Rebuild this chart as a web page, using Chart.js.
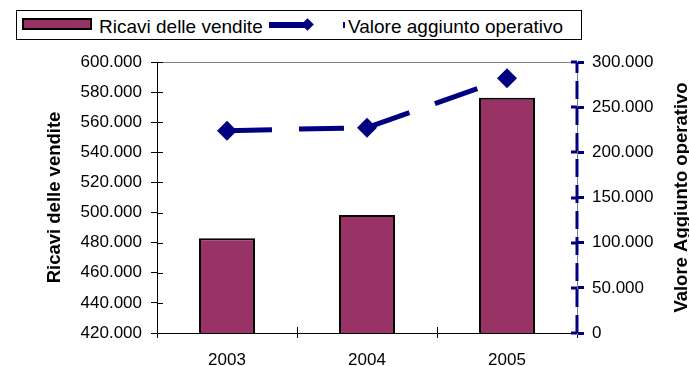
<!DOCTYPE html>
<html>
<head>
<meta charset="utf-8">
<script src="https://cdn.jsdelivr.net/npm/chart.js@4.4.1/dist/chart.umd.min.js"></script>
<style>
  body { margin: 0; background: #fff; }
  #wrap { position: relative; width: 689px; height: 366px; font-family: 'Liberation Sans', Arial, sans-serif; }
  #chart { position: absolute; left: 0; top: 0; }
  .lg { position: absolute; }
  #lgBox { left: 16px; top: 10px; width: 566px; height: 30px; border: 1px solid #000; box-sizing: border-box; background: #fff; }
  #lgBar { left: 22px; top: 18px; width: 70px; height: 12px; border: 2px solid #000; box-sizing: border-box; background: #993366; }
  .lgText { font-size: 19px; line-height: 22px; color: #000; white-space: nowrap; }
  #lgLine { left: 269px; top: 22px; width: 40px; height: 6px; background: #000080; }
  #lgDiamond { left: 303px; top: 20px; width: 9px; height: 9px; background: #000080; transform: rotate(45deg); }
  #lgDash { left: 343px; top: 22px; width: 2px; height: 6px; background: #000080; }
</style>
</head>
<body>
<div id="wrap">
  <canvas id="chart" width="689" height="366"></canvas>
  <div class="lg" id="lgBox"></div>
  <div class="lg" id="lgBar"></div>
  <span class="lg lgText" id="lgText1" style="left:99px; top:16px;"></span>
  <div class="lg" id="lgLine"></div>
  <div class="lg" id="lgDiamond"></div>
  <div class="lg" id="lgDash"></div>
  <span class="lg lgText" id="lgText2" style="left:348px; top:16px;"></span>
</div>
<script>
const anni = ['2003', '2004', '2005'];
const ricaviVendite = [482900, 498400, 576300];
const valoreAggiunto = [224000, 227300, 282000];
const labelRicavi = 'Ricavi delle vendite';
const labelValore = 'Valore aggiunto operativo';
const titoloSinistra = 'Ricavi delle vendite';
const titoloDestra = 'Valore Aggiunto operativo';

const BORDEAUX = '#993366';
const NAVY = '#000080';

document.getElementById('lgText1').textContent = labelRicavi;
document.getElementById('lgText2').textContent = labelValore;

// 600000 -> "600.000"
function migliaia(v) {
    return String(v).replace(/\B(?=(\d{3})+(?!\d))/g, '.');
}

Chart.defaults.font.family = "'Liberation Sans', Arial, sans-serif";
Chart.defaults.color = '#000';

// frame top line, inner half of the tick marks, dashed right axis, right title
const axisMarks = {
    id: 'axisMarks',
    afterDraw(chart) {
        const { ctx, chartArea: a, scales } = chart;
        ctx.save();

        ctx.strokeStyle = '#808080';
        ctx.lineWidth = 1;
        ctx.beginPath();
        ctx.moveTo(a.left, a.top + 0.5);
        ctx.lineTo(a.right, a.top + 0.5);
        ctx.stroke();

        const yL = scales.y;
        ctx.strokeStyle = '#000';
        ctx.beginPath();
        yL.ticks.forEach((t, i) => {
            const py = Math.round(yL.getPixelForTick(i)) + 0.5;
            ctx.moveTo(a.left, py);
            ctx.lineTo(a.left + 6, py);
        });
        const x = scales.x;
        for (let i = 0; i <= x.ticks.length; i++) {
            const px = Math.round(x.getPixelForValue(i - 0.5)) + 0.5;
            ctx.moveTo(px, a.bottom);
            ctx.lineTo(px, a.bottom - 6);
        }
        ctx.stroke();

        const yR = scales.y1;
        ctx.strokeStyle = NAVY;
        ctx.lineWidth = 3;
        ctx.setLineDash([18, 8]);
        ctx.beginPath();
        ctx.moveTo(a.right, a.bottom);
        ctx.lineTo(a.right, a.top);
        ctx.stroke();
        ctx.setLineDash([]);
        ctx.beginPath();
        yR.ticks.forEach((t, i) => {
            const py = Math.round(yR.getPixelForTick(i));
            ctx.moveTo(a.right - 6, py);
            ctx.lineTo(a.right, py);
        });
        ctx.stroke();

        const title = yR.options.title;
        ctx.translate(687, (a.top + a.bottom) / 2);
        ctx.rotate(-Math.PI / 2);
        ctx.font = 'bold 18.5px ' + Chart.defaults.font.family;
        ctx.fillStyle = '#000';
        ctx.textAlign = 'center';
        ctx.textBaseline = 'alphabetic';
        ctx.fillText(title.text, 0, 0);
        ctx.restore();
    }
};

new Chart(document.getElementById('chart'), {
    data: {
        labels: anni,
        datasets: [{
            type: 'line',
            label: labelValore,
            data: valoreAggiunto,
            yAxisID: 'y1',
            order: 1,
            borderColor: NAVY,
            backgroundColor: NAVY,
            borderWidth: 5,
            borderDash: [45, 27],
            borderCapStyle: 'butt',
            tension: 0,
            pointStyle: 'rectRot',
            pointRadius: 10,
            pointBorderWidth: 0,
            pointBackgroundColor: NAVY,
            // each segment starts its own dash pattern
            segment: {
                borderDashOffset: c => c.p0DataIndex * 72
            }
        }, {
            type: 'bar',
            label: labelRicavi,
            data: ricaviVendite,
            yAxisID: 'y',
            order: 2,
            backgroundColor: BORDEAUX,
            borderColor: '#000',
            borderWidth: 2,
            borderSkipped: false,
            barPercentage: 0.4,
            categoryPercentage: 1
        }]
    },
    options: {
        responsive: false,
        animation: false,
        layout: { padding: { top: 62, left: 0, right: 0, bottom: 0 } },
        plugins: {
            legend: { display: false },
            tooltip: { enabled: false }
        },
        scales: {
            x: {
                afterFit: s => { s.height = 33; },
                border: { color: '#000', width: 1 },
                grid: { offset: true, drawOnChartArea: false, tickLength: 5, color: '#000' },
                ticks: { font: { size: 17 }, padding: 12, color: '#000' }
            },
            y: {
                position: 'left',
                min: 420000,
                max: 600000,
                afterFit: s => { s.width = 157; },
                border: { color: '#000', width: 1 },
                grid: { drawOnChartArea: false, tickLength: 6, color: '#000' },
                ticks: { stepSize: 20000, font: { size: 17 }, padding: 9, color: '#000', callback: migliaia },
                title: {
                    display: true,
                    text: titoloSinistra,
                    font: { size: 18.5, weight: 'bold' },
                    padding: { top: 44, bottom: 0 },
                    color: '#000'
                }
            },
            y1: {
                position: 'right',
                min: 0,
                max: 300000,
                afterFit: s => { s.width = 112; },
                border: { color: '#808080', width: 1 },
                grid: { drawOnChartArea: false, tickLength: 7, color: NAVY, lineWidth: 3 },
                ticks: { stepSize: 50000, font: { size: 17 }, padding: 8, color: '#000', callback: migliaia },
                title: { display: false, text: titoloDestra }
            }
        }
    },
    plugins: [axisMarks]
});
</script>
</body>
</html>
